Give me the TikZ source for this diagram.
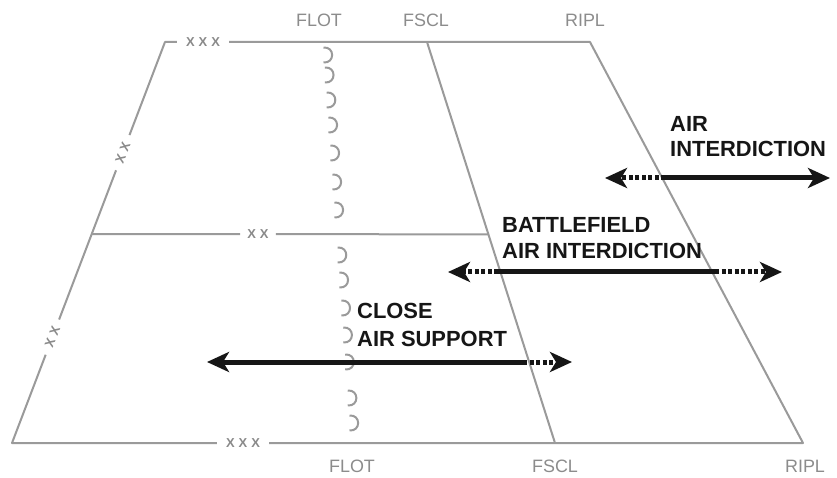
\documentclass[tikz,border=0pt]{standalone}
\usepackage{fontspec}
\setmainfont{Liberation Sans}
\usetikzlibrary{arrows.meta,calc}
\definecolor{lgray}{HTML}{9A9A9A}
\definecolor{tgray}{HTML}{8C8C8C}
\definecolor{egray}{HTML}{8A8A8A}
\definecolor{ink}{HTML}{161616}
\begin{document}
\begin{tikzpicture}[x=1bp,y=-1bp,
  gline/.style={draw=lgray,line width=2bp,line join=round},
  flotarc/.style={draw=lgray,line width=2bp},
  glabel/.style={text=tgray,font=\fontsize{18}{20}\selectfont,inner sep=0pt,anchor=base},
  blabel/.style={text=ink,font=\fontsize{22}{24}\selectfont\bfseries,inner sep=0pt,anchor=base west},
  echelon/.style={text=egray,font=\fontsize{13}{13}\selectfont\bfseries,inner ysep=0pt},
  solidarr/.style={draw=ink,line width=5bp},
  dotarr/.style={draw=ink,line width=5bp,dash pattern=on 4bp off 2.5bp},
  tipped/.style={-{Stealth[length=22bp,width=20bp,inset=6bp]}},
]
\fill[white] (0,0) rectangle (837,478);
\useasboundingbox (0,0) rectangle (837,478);

% frame corners
\coordinate (TL) at (165,42);
\coordinate (TR) at (590,42);
\coordinate (BL) at (12,443);
\coordinate (BR) at (803,443);
\coordinate (FT) at (427,42);
\coordinate (FB) at (555,443);
\coordinate (ML) at ($(BL)!0.521!(TL)$);
\coordinate (MR) at ($(FT)!0.48!(FB)$);

% echelon markers
\node[echelon,inner xsep=9bp] (eT) at (203,42) {X\hspace{4bp}X\hspace{4bp}X};
\node[echelon,inner xsep=7bp] (eM) at (258,234) {X\hspace{4bp}X};
\node[echelon,inner xsep=9bp] (eB) at (243,443) {X\hspace{4bp}X\hspace{4bp}X};
\node[echelon,inner xsep=8bp,rotate=69] (eL1) at ($(BL)!0.724!(TL)$) {X\hspace{4bp}X};
\node[echelon,inner xsep=8bp,rotate=69] (eL2) at ($(BL)!0.264!(TL)$) {X\hspace{4bp}X};

% frame lines
\draw[gline] (eB) -- (BR) -- (TR) -- (eT);
\draw[gline] (eT) -- (TL) -- (eL1);
\draw[gline] (eL1) -- (eL2);
\draw[gline] (eL2) -- (BL) -- (eB);
\draw[gline] (FT) -- (FB);
\draw[gline] (ML) -- (eM);
\draw[gline] (eM) -- (MR);

% FLOT line of arcs
\foreach \yy in {55,75,100,125,153,182,210,255,280,308,335,362,398,423}{
  \pgfmathsetmacro\xx{325+(\yy-55)*0.0707}
  \draw[flotarc] (\xx-1.5,\yy-7.5) .. controls (\xx+10,\yy-8.5) and (\xx+10,\yy+8.5) .. (\xx-1.5,\yy+7.5);
}

% line labels
\node[glabel] (flotT) at (319,27) {FLOT};
\node[glabel] (fsclT) at (426,27) {FSCL};
\node[glabel] (riplT) at (585,27) {RIPL};
\node[glabel] (flotB) at (352,472) {FLOT};
\node[glabel] (fsclB) at (555,472) {FSCL};
\node[glabel] (riplB) at (805,472) {RIPL};

% mission labels
\node[blabel] (ai1) at (670,132) {AIR};
\node[blabel] (ai2) at (670,157) {INTERDICTION};
\node[blabel] (b1) at (502,233) {BATTLEFIELD};
\node[blabel] (b2) at (502,259) {AIR INTERDICTION};
\node[blabel] (c1) at (357,319) {CLOSE};
\node[blabel] (c2) at (357,346) {AIR SUPPORT};

% arrows
\coordinate (aiL) at (605,178);
\coordinate (aiM) at (665,178);
\coordinate (aiR) at (830,178);
\draw[dotarr,tipped] (aiM) -- (aiL);
\draw[solidarr,tipped] (aiM) -- (aiR);

\coordinate (bL) at (448,272);
\coordinate (bM1) at (498,272);
\coordinate (bM2) at (715,272);
\coordinate (bR) at (782,272);
\draw[dotarr,tipped] (bM1) -- (bL);
\draw[solidarr] (bM1) -- (bM2);
\draw[dotarr,tipped] (bM2) -- (bR);

\coordinate (cL) at (207,362);
\coordinate (cM) at (523,362);
\coordinate (cR) at (572,362);
\draw[solidarr,tipped] (cM) -- (cL);
\draw[dotarr,tipped] (cM) -- (cR);
\end{tikzpicture}
\end{document}
